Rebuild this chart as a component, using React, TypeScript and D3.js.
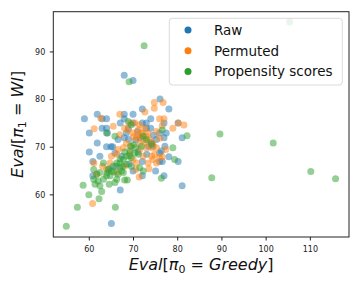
import * as d3 from "d3";

// [Eval greedy, Eval WI] pairs
const raw: [number, number][] = [
  [67.9, 85.1], [69.9, 84.0], [58.9, 76.0], [60.0, 73.0], [60.0, 69.0], [61.8, 76.9],
  [61.8, 70.9], [62.9, 76.0], [63.9, 76.0], [62.9, 74.0], [63.9, 74.0], [64.1, 73.0],
  [63.9, 70.1], [64.9, 70.1], [65.3, 70.1], [60.8, 67.0], [60.8, 64.0], [67.0, 61.0],
  [65.0, 54.0], [81.0, 61.9], [76.0, 80.1], [78.0, 78.0], [80.1, 75.1], [81.0, 72.0],
  [80.1, 67.0], [76.9, 64.0], [76.9, 75.1], [76.9, 72.0], [72.0, 78.0], [69.9, 76.9],
  [67.9, 76.9], [67.9, 76.0], [67.0, 75.1], [72.0, 75.1], [72.9, 75.1], [73.9, 76.0],
  [72.9, 74.0], [73.9, 74.0], [67.9, 72.0], [69.9, 65.0], [72.0, 64.0], [75.0, 65.0],
  [75.9, 68.8], [76.5, 67.0], [75.9, 67.0], [72.0, 67.0], [68.4, 73.0], [68.8, 74.0],
  [69.9, 75.1], [70.9, 73.3], [68.9, 71.6], [66.5, 71.6], [65.8, 68.8], [67.3, 68.1],
  [62.4, 68.1], [75.2, 71.6], [74.4, 70.2], [77.1, 70.2], [76.3, 69.2], [73.4, 70.2],
  [75.9, 73.0], [77.4, 73.0], [71.0, 69.0], [69.0, 66.5], [66.0, 66.0], [73.0, 68.5],
  [78.0, 68.0], [74.5, 72.5], [70.5, 71.5], [64.5, 65.5], [71.5, 72.0], [74.0, 71.0],
];

const permuted: [number, number][] = [
  [60.75, 58.2], [61.05, 66.7], [61.1, 73.9], [62.6, 76.1], [63.0, 66.0], [65.4, 74.4],
  [66.9, 76.9], [66.9, 72.6], [68.0, 74.0], [69.2, 75.1], [70.3, 75.1], [72.6, 77.4],
  [74.7, 79.4], [74.7, 78.2], [76.7, 79.4], [75.9, 76.0], [76.9, 76.0], [78.9, 74.0],
  [80.1, 75.1], [81.4, 74.65], [77.3, 69.5], [75.9, 67.8], [74.1, 68.1], [71.3, 63.75],
  [73.5, 65.5], [70.5, 65.3], [66.2, 68.5], [65.0, 68.1], [64.7, 66.7], [61.65, 64.4],
  [69.9, 73.0], [71.1, 73.7], [71.8, 73.0], [72.6, 74.0], [70.7, 71.9], [72.2, 71.6],
  [73.3, 73.0], [73.7, 71.6], [74.4, 70.9], [75.2, 69.9], [72.9, 69.9], [71.4, 69.5],
  [69.5, 70.2], [68.4, 70.9], [67.7, 69.9], [66.5, 69.5], [69.2, 68.8], [69.9, 67.4],
  [72.2, 68.1], [74.4, 67.4], [73.3, 66.7], [75.2, 66.7], [70.7, 66.7], [68.0, 66.0],
  [66.2, 64.7], [63.9, 65.3], [75.9, 71.9], [74.1, 69.9], [68.8, 73.6], [71.4, 74.7],
  [75.2, 73.3], [72.9, 72.3], [76.5, 74.5], [71.0, 72.5], [72.0, 72.8], [73.0, 71.0],
  [71.5, 70.8], [70.0, 72.2], [74.8, 68.5], [76.5, 68.0],
];

const propensity: [number, number][] = [
  [54.8, 53.4], [57.3, 57.4], [58.6, 62.0], [59.9, 60.0], [62.2, 59.2], [62.8, 60.7],
  [65.9, 57.4], [72.4, 91.3], [69.0, 83.75], [105.3, 96.3], [89.55, 72.8], [87.7, 63.6],
  [101.6, 70.9], [110.1, 64.9], [115.7, 63.4], [82.1, 72.4], [78.9, 69.9], [79.3, 67.4],
  [76.5, 73.6], [76.3, 63.5], [65.8, 62.6], [68.0, 63.1], [68.6, 63.1], [61.0, 65.3],
  [61.3, 62.2], [62.0, 62.9], [62.4, 61.9], [63.2, 63.3], [63.9, 64.0], [64.3, 65.3],
  [65.0, 65.0], [64.7, 64.0], [65.4, 66.0], [66.2, 66.7], [66.9, 65.7], [67.3, 65.0],
  [66.5, 64.3], [67.7, 67.4], [68.4, 68.1], [69.2, 69.2], [69.5, 67.8], [70.3, 68.8],
  [71.1, 68.5], [71.8, 70.2], [72.2, 72.3], [71.4, 65.7], [72.2, 65.0], [68.8, 75.4],
  [63.9, 73.0], [65.8, 72.3], [69.5, 74.7], [63.2, 66.7], [62.4, 64.7], [61.7, 64.3],
  [66.9, 66.7], [69.5, 66.0], [70.5, 69.9], [68.4, 66.4], [72.9, 71.6], [61.0, 63.3],
  [74.1, 70.6], [67.7, 64.7], [66.2, 63.3], [69.3, 70.2], [64.5, 62.2], [67.0, 67.5],
  [68.0, 69.0], [70.0, 70.5], [65.5, 64.8], [64.0, 64.6], [67.5, 66.0], [69.0, 68.2],
];

const series = [
  { name: "Raw", color: "#1f77b4", data: raw },
  { name: "Permuted", color: "#ff7f0e", data: permuted },
  { name: "Propensity scores", color: "#2ca02c", data: propensity },
];

const xTicks = [60, 70, 80, 90, 100, 110];
const yTicks = [60, 70, 80, 90];

export default function App() {
  const width = 360;
  const height = 288;
  const margin = { top: 11.7, right: 11, bottom: 51, left: 53.3 };

  const x = d3.scaleLinear().domain([51.86, 118.74]).range([margin.left, width - margin.right]);
  const y = d3.scaleLinear().domain([51.15, 98.45]).range([height - margin.bottom, margin.top]);

  const [x0, x1] = x.range();
  const [y0, y1] = y.range();
  const font = "DejaVu Sans, sans-serif";

  return (
    <svg
      width={width}
      height={height}
      style={{ position: "absolute", left: 0, top: 0, background: "#fff" }}
      fontFamily={font}
    >
      <defs>
        <clipPath id="plot">
          <rect x={x0} y={y1} width={x1 - x0} height={y0 - y1} />
        </clipPath>
      </defs>

      {/* points */}
      <g clipPath="url(#plot)">
        {series.map((s) => (
          <g key={s.name}>
            {s.data.map((d, i) => (
              <circle key={i} cx={x(d[0])} cy={y(d[1])} r={3.5} fill={s.color} fillOpacity={0.5} />
            ))}
          </g>
        ))}
      </g>

      {/* frame */}
      <rect x={x0} y={y1} width={x1 - x0} height={y0 - y1} fill="none" stroke="#222" strokeWidth={1} />

      {/* x axis */}
      {xTicks.map((t) => (
        <g key={t} transform={`translate(${x(t)},${y0})`}>
          <line y2={3.5} stroke="#222" />
          <text y={14.5} textAnchor="middle" fontSize={8} fill="#222">{t}</text>
        </g>
      ))}
      {/* y axis */}
      {yTicks.map((t) => (
        <g key={t} transform={`translate(${x0},${y(t)})`}>
          <line x2={-3.5} stroke="#222" />
          <text x={-8} dy="0.35em" textAnchor="end" fontSize={8} fill="#222">{t}</text>
        </g>
      ))}

      {/* axis labels */}
      <text x={(x0 + x1) / 2} y={270} textAnchor="middle" fontSize={16} fill="#111">
        <tspan fontStyle="italic">Eval</tspan>
        <tspan>[</tspan>
        <tspan fontStyle="italic">π</tspan>
        <tspan fontSize={11} dy={3}>0</tspan>
        <tspan dy={-3}> = </tspan>
        <tspan fontStyle="italic">Greedy</tspan>
        <tspan>]</tspan>
      </text>
      <text
        transform={`translate(23,${(y0 + y1) / 2}) rotate(-90)`}
        textAnchor="middle"
        fontSize={16}
        fill="#111"
      >
        <tspan fontStyle="italic">Eval</tspan>
        <tspan>[</tspan>
        <tspan fontStyle="italic">π</tspan>
        <tspan fontSize={11} dy={3}>1</tspan>
        <tspan dy={-3}> = </tspan>
        <tspan fontStyle="italic">WI</tspan>
        <tspan>]</tspan>
      </text>

      {/* legend */}
      <g>
        <rect x={169.3} y={18.3} width={173} height={66.7} rx={3} fill="#fff" fillOpacity={0.8} stroke="#d0d0d0" strokeWidth={0.8} />
        {series.map((s, i) => (
          <g key={s.name} transform={`translate(188,${30 + i * 20.7})`}>
            <circle r={3.5} fill={s.color} />
            <text x={26} dy="0.36em" fontSize={13.5} fill="#111">{s.name}</text>
          </g>
        ))}
      </g>
    </svg>
  );
}
